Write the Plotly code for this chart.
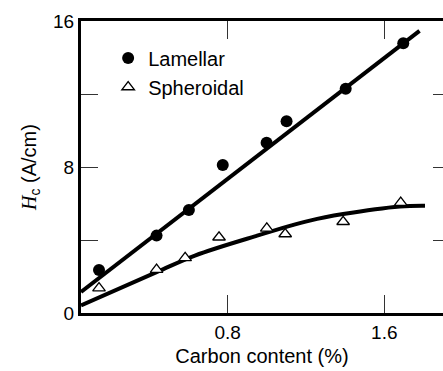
import plotly.graph_objects as go

lam_x = [0.143, 0.437, 0.602, 0.775, 0.999, 1.101, 1.403, 1.697]
lam_y = [2.35, 4.24, 5.64, 8.11, 9.33, 10.51, 12.29, 14.78]
sph_x = [0.143, 0.437, 0.583, 0.756, 1.000, 1.094, 1.390, 1.684]
sph_y = [1.36, 2.38, 3.02, 4.15, 4.64, 4.33, 5.00, 6.05]

# Fitted curves
lam_fit_x = [0.051, 1.78]
lam_fit_y = [1.15, 15.46]
sph_fit_x = [0.051, 0.437, 0.633, 0.939, 1.22, 1.39, 1.68, 1.808]
sph_fit_y = [0.42, 2.24, 3.15, 4.20, 5.06, 5.42, 5.84, 5.88]

x_tickvals = [0.8, 1.6]
x_ticktext = ["0.8", "1.6"]
y_tickvals = [0, 8, 16]
y_ticktext = ["0", "8", "16"]
y_minor_ticks = [4, 12]
y_right_ticks = [4, 8, 12]

FONT = "Liberation Sans, Arial, sans-serif"

fig = go.Figure()
fig.add_trace(go.Scatter(x=lam_fit_x, y=lam_fit_y, mode="lines",
                         line=dict(color="black", width=4), showlegend=False, hoverinfo="skip"))
fig.add_trace(go.Scatter(x=sph_fit_x, y=sph_fit_y, mode="lines",
                         line=dict(color="black", width=4, shape="spline", smoothing=1.0),
                         showlegend=False, hoverinfo="skip"))
fig.add_trace(go.Scatter(x=lam_x, y=lam_y, mode="markers", name="Lamellar",
                         marker=dict(symbol="circle", size=12, color="black")))
fig.add_trace(go.Scatter(x=sph_x, y=sph_y, mode="markers", name="Spheroidal",
                         marker=dict(symbol="triangle-up", size=11, color="white",
                                     line=dict(color="black", width=1.3))))
# invisible trace for right-side ticks
fig.add_trace(go.Scatter(x=[None], y=[None], yaxis="y2", showlegend=False))

fig.update_layout(
    width=443, height=371,
    margin=dict(l=81, r=0, t=21, b=58),
    paper_bgcolor="white", plot_bgcolor="white",
    font=dict(family=FONT, size=20, color="black"),
    showlegend=True,
    legend=dict(x=0.075, y=0.94, xanchor="left", yanchor="top",
                bgcolor="rgba(0,0,0,0)", font=dict(size=20),
                itemsizing="trace", tracegroupgap=0),
    xaxis=dict(range=[0.051, 1.90], tickvals=x_tickvals, ticktext=x_ticktext,
               ticks="inside", ticklen=18, tickwidth=1.2, tickcolor="#333",
               showline=True, linewidth=3, linecolor="black", mirror="ticks",
               showgrid=False, zeroline=False,
               tickfont=dict(size=19),
               title=dict(text="Carbon content (%)", font=dict(size=20), standoff=8)),
    yaxis=dict(range=[0, 16], tickvals=y_tickvals, ticktext=y_ticktext,
               ticks="inside", ticklen=17, tickwidth=1.2, tickcolor="#333",
               minor=dict(tickvals=y_minor_ticks, ticks="inside", ticklen=17,
                          tickwidth=1.2, tickcolor="#333", showgrid=False),
               showline=True, linewidth=3, linecolor="black", mirror=False,
               showgrid=False, zeroline=False,
               tickfont=dict(size=19),
               title=dict(text="<span style=\"font-family:'Liberation Serif',serif\"><i>H</i></span><sub>c</sub> (A/cm)",
                          font=dict(size=20), standoff=12)),
    yaxis2=dict(range=[0, 16], overlaying="y", side="right", tickvals=y_right_ticks,
                ticks="inside", ticklen=10, tickwidth=1.2, tickcolor="#333",
                showticklabels=False, showline=False, showgrid=False, zeroline=False),
)

fig.write_html("out.html")
